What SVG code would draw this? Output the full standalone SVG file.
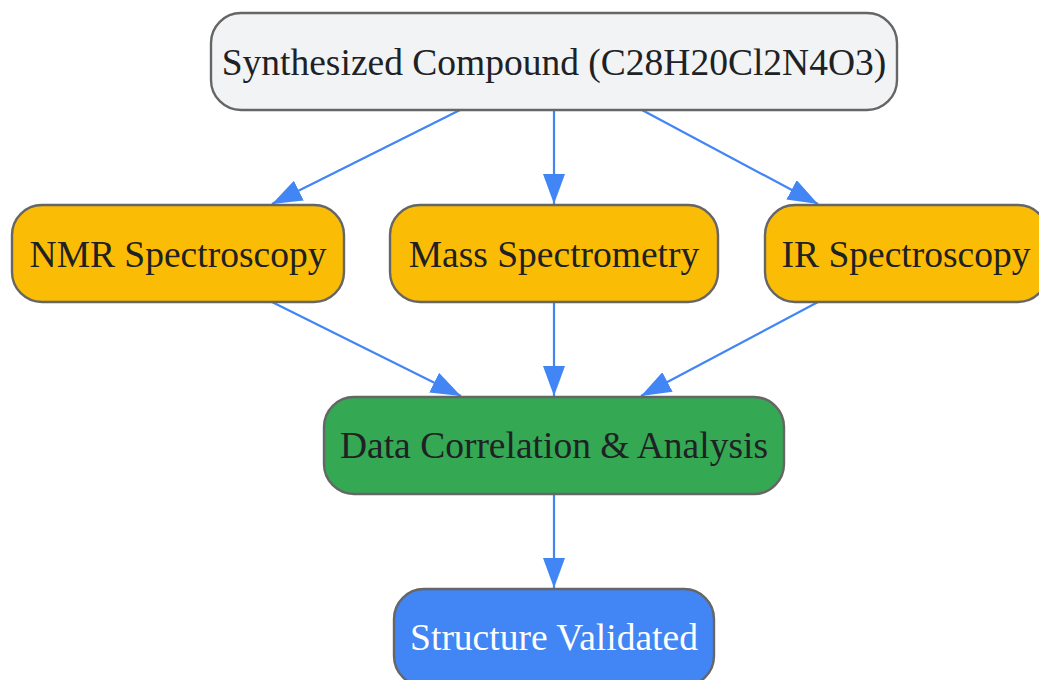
<svg xmlns="http://www.w3.org/2000/svg" width="1039" height="680" viewBox="0 0 1039 680">
<style>
.node rect{stroke:#666;stroke-width:2.4}
.node text{font-family:"Liberation Serif","Times New Roman",serif;font-size:37.5px;fill:#202124;text-anchor:middle}
.edge{fill:none;stroke:#4285F4;stroke-width:2.2}
</style>
<defs>
<marker id="arrow" viewBox="0 0 30 22" refX="30" refY="11" markerWidth="30" markerHeight="22" markerUnits="userSpaceOnUse" orient="auto">
<path d="M0,0 L30,11 L0,22 z" fill="#4285F4"/>
</marker>
</defs>
<rect width="1039" height="680" fill="#ffffff"/>
<g id="connectors">
<path class="edge" d="M460,110 L272,204" marker-end="url(#arrow)"/>
<path class="edge" d="M554,110 L554,204" marker-end="url(#arrow)"/>
<path class="edge" d="M642,110 L818,204" marker-end="url(#arrow)"/>
<path class="edge" d="M272,302 L461,396" marker-end="url(#arrow)"/>
<path class="edge" d="M554,302 L554,396" marker-end="url(#arrow)"/>
<path class="edge" d="M818,302 L641,396" marker-end="url(#arrow)"/>
<path class="edge" d="M554,494 L554,588" marker-end="url(#arrow)"/>
</g>
<g id="compound" class="node">
<rect x="211" y="13" width="686" height="97" rx="30" fill="#F1F3F4"/>
<text x="554" y="75">Synthesized Compound (C28H20Cl2N4O3)</text>
</g>
<g id="nmr" class="node">
<rect x="12" y="205" width="332" height="97" rx="30" fill="#FBBC05"/>
<text x="178" y="267">NMR Spectroscopy</text>
</g>
<g id="mass" class="node">
<rect x="390" y="205" width="328" height="97" rx="30" fill="#FBBC05"/>
<text x="554" y="267">Mass Spectrometry</text>
</g>
<g id="ir" class="node">
<rect x="765" y="205" width="283" height="97" rx="30" fill="#FBBC05"/>
<text x="906" y="267">IR Spectroscopy</text>
</g>
<g id="analysis" class="node">
<rect x="324" y="397" width="460" height="97" rx="30" fill="#34A853"/>
<text x="554" y="458">Data Correlation &amp; Analysis</text>
</g>
<g id="validated" class="node">
<rect x="394" y="589" width="320" height="97" rx="30" fill="#4285F4"/>
<text x="554" y="650" style="fill:#ffffff">Structure Validated</text>
</g>
</svg>
